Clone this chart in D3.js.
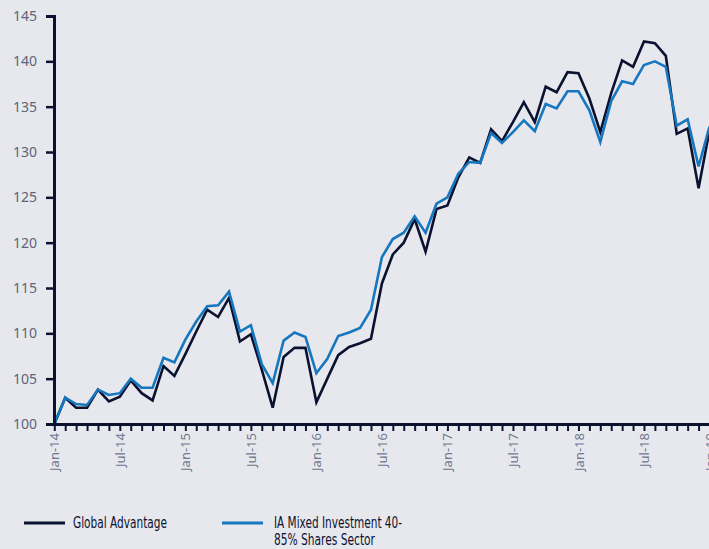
<!DOCTYPE html>
<html><head><meta charset="utf-8">
<script src="https://cdn.jsdelivr.net/npm/d3@7"></script>
<style>
html,body{margin:0;padding:0;background:#e7e8ee;}
svg{display:block;}
</style></head>
<body>
<svg id="chart" width="709" height="549"></svg>
<script>
const monthNames = ["Jan","Feb","Mar","Apr","May","Jun","Jul","Aug","Sep","Oct","Nov","Dec"];
const months = [];
for (let y = 14; y <= 19; y++) for (let m = 0; m < 12; m++) { if (y === 19 && m > 0) break; months.push(monthNames[m] + "-" + y); }
const tickLabels = months.filter((d, i) => i % 6 === 0);
const yTicks = [100,105,110,115,120,125,130,135,140,145];

const globalAdvantage = [100,102.9,101.8,101.8,103.8,102.5,103.0,104.8,103.4,102.6,106.4,105.3,
  107.7,110.2,112.6,111.8,113.9,109.1,109.9,106.0,101.8,107.4,108.4,108.4,
  102.4,105.0,107.6,108.5,108.9,109.4,115.5,118.7,120.0,122.6,119.0,123.7,
  124.1,127.2,129.4,128.8,132.5,131.2,133.3,135.5,133.3,137.2,136.6,138.8,
  138.7,135.9,132.2,136.5,140.1,139.4,142.2,142.0,140.6,132.0,132.6,126.0,132.4];
const iaMixed = [100,102.9,102.2,102.1,103.8,103.2,103.4,105.0,104.0,104.0,107.3,106.8,
  109.3,111.3,113.0,113.1,114.6,110.2,110.9,106.6,104.5,109.2,110.1,109.6,
  105.6,107.2,109.7,110.1,110.6,112.6,118.4,120.4,121.1,122.9,121.1,124.3,
  125.0,127.6,128.9,128.8,132.1,131.0,132.2,133.5,132.3,135.3,134.8,136.7,
  136.7,134.6,131.1,135.6,137.8,137.5,139.6,140.0,139.4,132.9,133.6,128.4,132.8];
const seriesNames = ["Global Advantage", "IA Mixed Investment 40-85% Shares Sector"];

const svg = d3.select("#chart");
const W = 709, H = 549;
svg.append("rect").attr("width", W).attr("height", H).attr("fill", "#e7e8ee");

const x = d3.scalePoint().domain(months).range([54.3, 709.5]);
const y = d3.scaleLinear().domain([100, 145]).range([424, 16]);

const axisColor = "#0b1230";
const labelFont = "'Noto Sans', 'Liberation Sans', Arial, sans-serif";

// lines
const line = d3.line().x((d, i) => x(months[i])).y(d => y(d));
svg.append("path").datum(globalAdvantage).attr("d", line).attr("fill", "none")
  .attr("stroke", "#0b1230").attr("stroke-width", 2.6).attr("stroke-linejoin", "miter");
svg.append("path").datum(iaMixed).attr("d", line).attr("fill", "none")
  .attr("stroke", "#1677bf").attr("stroke-width", 2.6).attr("stroke-linejoin", "miter");

// y axis
const yAxis = svg.append("g").attr("transform", "translate(54,0)")
  .call(d3.axisLeft(y).tickValues(yTicks).tickSize(8).tickPadding(9));
yAxis.select(".domain").attr("stroke", axisColor).attr("stroke-width", 3);
yAxis.selectAll(".tick line").attr("stroke", axisColor).attr("stroke-width", 2.5);
yAxis.selectAll(".tick text").attr("fill", "#5c6478").attr("font-size", 14)
  .attr("font-family", labelFont);

// x axis
const xAxis = svg.append("g").attr("transform", "translate(0,424)")
  .call(d3.axisBottom(x).tickSize(7).tickSizeOuter(0).tickFormat(d => tickLabels.includes(d) ? d : ""));
xAxis.select(".domain").attr("stroke", axisColor).attr("stroke-width", 3);
xAxis.selectAll(".tick line").attr("stroke", axisColor).attr("stroke-width", 2);
xAxis.selectAll(".tick text").attr("fill", "#707790").attr("font-size", 13)
  .attr("font-family", labelFont)
  .attr("text-anchor", "end").attr("transform", "rotate(-90)")
  .attr("x", -9).attr("y", 0).attr("dy", "0.35em");

// legend
const legFont = "'DejaVu Sans Condensed', 'Liberation Sans Narrow', Roboto, sans-serif";
const leg = svg.append("g");
leg.append("line").attr("x1", 24).attr("x2", 65).attr("y1", 523).attr("y2", 523)
  .attr("stroke", "#0b1230").attr("stroke-width", 3);
leg.append("text").attr("x", 73).attr("y", 528).attr("font-size", 15).attr("fill", "#0b1230")
  .attr("font-family", legFont).attr("textLength", 94).attr("lengthAdjust", "spacingAndGlyphs")
  .text(seriesNames[0]);
leg.append("line").attr("x1", 222).attr("x2", 263).attr("y1", 523).attr("y2", 523)
  .attr("stroke", "#1677bf").attr("stroke-width", 3);
leg.append("text").attr("x", 274).attr("y", 528).attr("font-size", 15).attr("fill", "#0b1230")
  .attr("font-family", legFont).attr("textLength", 128).attr("lengthAdjust", "spacingAndGlyphs")
  .text("IA Mixed Investment 40-");
leg.append("text").attr("x", 274).attr("y", 545).attr("font-size", 15).attr("fill", "#0b1230")
  .attr("font-family", legFont).attr("textLength", 101).attr("lengthAdjust", "spacingAndGlyphs")
  .text("85% Shares Sector");
</script>
</body></html>
